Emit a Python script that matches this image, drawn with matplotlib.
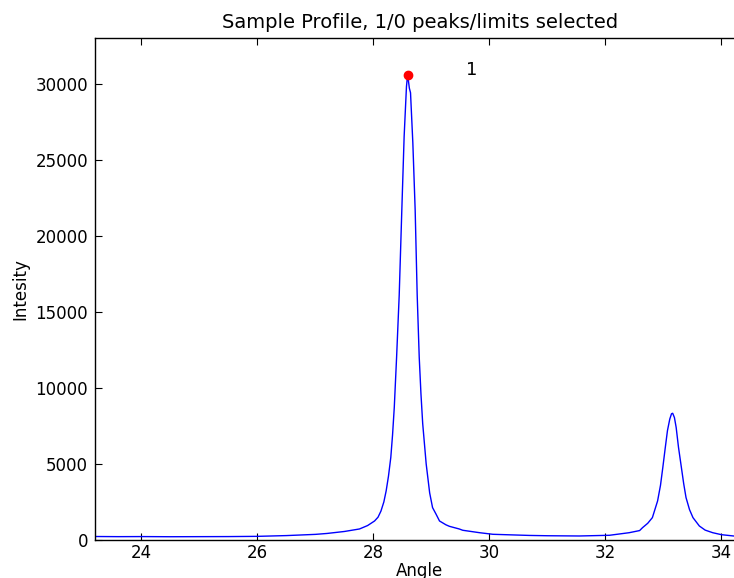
import matplotlib
matplotlib.use("Agg")
import matplotlib.pyplot as plt

angle = [23.20, 23.60, 24.00, 24.50, 25.00, 25.50, 26.00, 26.50, 27.00, 27.20,
         27.50, 27.76, 27.90, 28.02, 28.08, 28.13, 28.18, 28.22, 28.26, 28.30,
         28.33, 28.36, 28.40, 28.445, 28.49, 28.53, 28.57, 28.59, 28.62, 28.64,
         28.68, 28.72, 28.755, 28.79, 28.82, 28.85, 28.91, 28.97, 29.02, 29.08,
         29.14, 29.25, 29.31, 29.48, 29.54, 29.83, 30.06, 30.69, 31.00, 31.55,
         32.07, 32.41, 32.59, 32.64, 32.73, 32.81, 32.90, 32.95, 32.99, 33.03,
         33.07, 33.11, 33.14, 33.16, 33.19, 33.22, 33.26, 33.31, 33.35, 33.39,
         33.45, 33.51, 33.62, 33.72, 33.85, 34.00, 34.21]
intensity = [230, 220, 225, 215, 220, 225, 240, 290, 370, 430,
             560, 725, 950, 1250, 1500, 1900, 2500, 3230, 4200, 5430,
             6900, 8720, 12020, 16100, 21700, 26530, 29800, 30600, 29700, 29400,
             26100, 21700, 16100, 12020, 9600, 7650, 5000, 3100, 2130, 1700,
             1250, 1000, 900, 725, 640, 480, 375, 300, 280, 264,
             310, 480, 620, 810, 1100, 1470, 2570, 3600, 4770, 6000,
             7190, 7950, 8300, 8330, 8050, 7400, 6100, 4770, 3700, 2790,
             2000, 1470, 920, 650, 480, 350, 264]
peak_angle = [28.59]
peak_intensity = [30600]
peak_labels = ["1"]

fig = plt.figure(figsize=(7.34, 5.78), dpi=100)
fig.patch.set_facecolor("white")
# axes extends past the right edge of the figure (cropped as in reference)
x0, x1 = 23.2, 34.4
left = 95 / 734
width = 58 * (x1 - x0) / 734
ax = fig.add_axes([left, 1 - 540 / 578, width, (540 - 38) / 578])
ax.plot(angle, intensity, color="#0000ff", linewidth=1.0)
ax.plot(peak_angle, peak_intensity, "o", color="red", markersize=6, markeredgecolor="red")
for px, py, lab in zip(peak_angle, peak_intensity, peak_labels):
    ax.text(px + 1.0, py, lab, fontsize=13, ha="left", va="baseline")
ax.set_xlim(x0, x1)
ax.set_ylim(0, 33000)
ax.set_xticks([24, 26, 28, 30, 32, 34])
ax.set_yticks([0, 5000, 10000, 15000, 20000, 25000, 30000])
ax.tick_params(direction="in", length=5, top=True, right=True, labelsize=12, pad=5)
ax.tick_params(axis="x", pad=3)
ax.set_title("Sample Profile, 1/0 peaks/limits selected", fontsize=14, pad=7)
ax.set_xlabel("Angle", fontsize=12, labelpad=0)
ax.set_ylabel("Intesity", fontsize=12)
for s in ax.spines.values():
    s.set_linewidth(1.0)
fig.savefig("out.png", dpi=100, facecolor="white")
